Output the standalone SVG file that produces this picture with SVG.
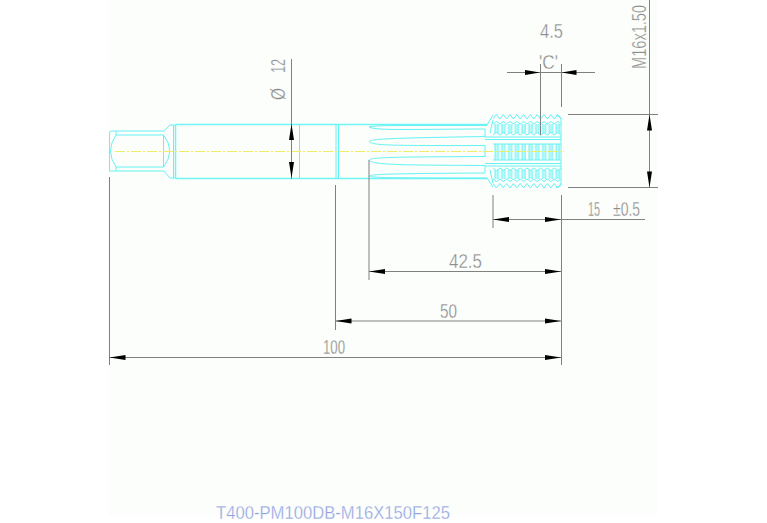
<svg xmlns="http://www.w3.org/2000/svg" width="767" height="523" viewBox="0 0 767 523">
<style>
.c{fill:none;stroke:#66f2f5;stroke-width:1}
.b{fill:none;stroke:#70f5f7;stroke-width:1.5}
.d{fill:none;stroke:#808080;stroke-width:1}
.t{font-family:"Liberation Sans",Arial,sans-serif;font-size:20px;fill:#8c8c8c;stroke:#fff;stroke-width:.3px}
.a{fill:#000}
</style>
<defs>
<pattern id="rib" x="493" y="0" width="6.8" height="10" patternUnits="userSpaceOnUse">
<rect x="2" width="3" height="10" fill="#c4fbfc"/>
<path d="M2 0V10M5 0V10" stroke="#66f2f5" stroke-width="1"/>
</pattern>
<path id="w" d="M0 0l3.400 -4.500 3.400 4.500 3.400 -4.500 3.400 4.500 3.400 -4.500 3.400 4.500 3.400 -4.500 3.400 4.500 3.400 -4.500 3.400 4.500 3.400 -4.500 3.400 4.500 3.400 -4.500 3.400 4.500 3.400 -4.500 3.400 4.500 3.400 -4.500 3.400 4.500 3.400 -4.500 3.400 4.500"/>
<path id="v" d="M0 0l3.400 -2.500 3.400 2.500 3.400 -2.500 3.400 2.500 3.400 -2.500 3.400 2.500 3.400 -2.500 3.400 2.500 3.400 -2.500 3.400 2.500 3.400 -2.500 3.400 2.500 3.400 -2.500 3.400 2.500 3.400 -2.500 3.400 2.500 3.400 -2.500 3.400 2.500 3.400 -2.500 3.400 2.500"/>
</defs>
<rect width="767" height="523" fill="#fff"/>
<rect x="108" width="549.500" height="515" fill="#fbfefa"/>
<g id="tool">
<path class="b" d="M175.500 124.500H487M175.500 178.500H487M175.500 124.500V178.500"/>
<path class="c" d="M109.500 132V171L112 171H164L170 178H175M109.500 132L112 131H164L170 125H175M116 131V135M116 167V171M116 135H163.500V167H116M116 135Q105 151 116 167M163.500 135Q176 151 163.500 167M173.500 125V178"/>
<path class="c" d="M299.500 124.500V178.500M336 124.500V178.500M338.500 124.500V178.500"/>
<path class="c" d="M369 127Q372 129.500 400 129.500C430 129.500 460 129 485 129M369 127Q372 125.500 400 125.500H487"/>
<path class="c" d="M369 141.500C372 138.500 400 138 485 136.500M369 141.500C372 146 400 145.500 485 145.500"/>
<path class="c" d="M369 160C372 157 400 157 485 156.500M369 160C372 165 400 165 485 165.500"/>
<path class="c" d="M369 176C372 174 400 173.500 485 173M369 176C372 178 400 178 487 178"/>
<path class="c" d="M485 129V137M485 145.500V157M485 165.500V173M487 125L493 115M487 178L493 187M493 120L490 133M493 183L490 170M485 137H561M485 139.500H561M485 163.500H561M485 166H561"/>
</g>
<g id="thread">
<rect x="493" y="124" width="68" height="9" fill="url(#rib)"/>
<rect x="493" y="144" width="68" height="16" fill="url(#rib)"/>
<path d="M493 144H561M493 160H561" class="c"/>
<rect x="493" y="170" width="68" height="9" fill="url(#rib)"/>
<use href="#w" class="c" x="493" y="119"/>
<use href="#v" class="c" x="493" y="124"/>
<use href="#v" class="c" x="493" y="135"/>
<use href="#w" class="c" transform="translate(493 183.500) scale(1 -1)"/>
<use href="#v" class="c" transform="translate(493 179) scale(1 -1)"/>
<use href="#v" class="c" transform="translate(493 168) scale(1 -1)"/>
<path class="c" d="M556 115L561 118V185L556 188"/>
</g>
<path id="centerline" d="M115 151.500H564" fill="none" stroke="#eeee66" stroke-width="1" stroke-dasharray="10 2 2 2"/>
<g id="connectors">
<path class="d" d="M291.500 59V179M540.500 64V135M561.500 64V107M507 72.500H595M649.500 0V188M568 114.500H658M568 187.500H658M493 195V228M561.500 195V365M493 219.500H645M369 160V280M369 271.500H561M335.500 185V330M335.500 321H561M109.500 177V365M109.500 357.500H561"/>
<path class="a" d="M291.500 124l-2.500 16h5zM291.500 178l-2.500 -16h5zM540 72.500l-15 -2.500v5zM561.500 72.500l15 -2.500v5zM649.500 114.500l-2.500 16h5zM649.500 187.500l-2.500 -16h5zM493 219.500l16 -2.500v5zM561 219.500l-16 -2.500v5zM369 271.500l16 -2.500v5zM561 271.500l-16 -2.500v5zM335.500 321l16 -2.500v5zM561 321l-16 -2.500v5zM109.500 357.500l16 -2.500v5zM561 357.500l-16 -2.500v5z"/>
</g>
<g id="labels">
<text class="t" x="540" y="38" textLength="23" lengthAdjust="spacingAndGlyphs">4.5</text>
<text class="t" x="539" y="69" textLength="19" lengthAdjust="spacingAndGlyphs">'C'</text>
<text class="t" transform="translate(646 69) rotate(-90) scale(.73 1)">M16x1.50</text>
<text class="t" transform="translate(285 100) rotate(-90)" textLength="12" lengthAdjust="spacingAndGlyphs">Ø</text>
<text class="t" transform="translate(285 73) rotate(-90)" textLength="14" lengthAdjust="spacingAndGlyphs">12</text>
<text class="t" x="588" y="216" textLength="12" lengthAdjust="spacingAndGlyphs">15</text>
<text class="t" x="613" y="216" textLength="27" lengthAdjust="spacingAndGlyphs">±0.5</text>
<text class="t" x="449" y="268" textLength="33" lengthAdjust="spacingAndGlyphs">42.5</text>
<text class="t" x="440" y="318" textLength="17" lengthAdjust="spacingAndGlyphs">50</text>
<text class="t" x="323" y="354" textLength="22" lengthAdjust="spacingAndGlyphs">100</text>
<text x="216" y="519" textLength="234" lengthAdjust="spacingAndGlyphs" style="font-family:'Liberation Sans',Arial,sans-serif;font-size:18px;fill:#8fa3e0;stroke:#fff;stroke-width:.3px">T400-PM100DB-M16X150F125</text>
</g>
</svg>
